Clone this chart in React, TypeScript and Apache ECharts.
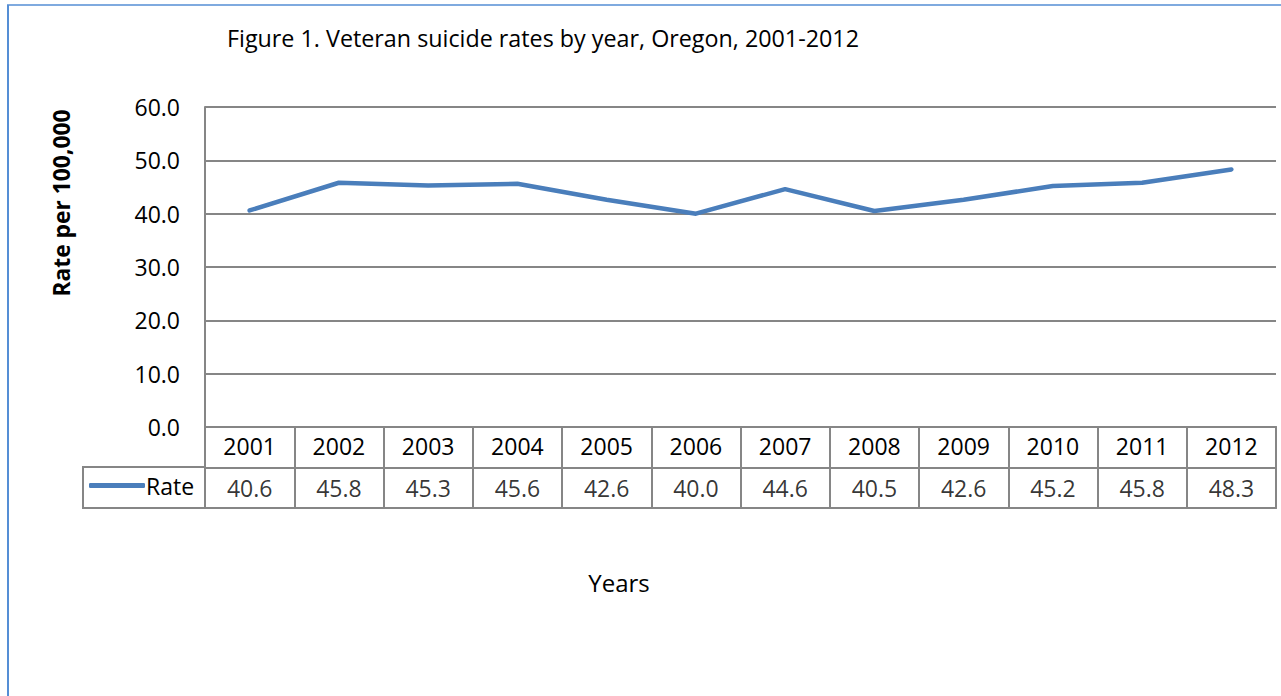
import React, { useEffect, useRef } from "react";
import * as echarts from "echarts";

const years = ["2001", "2002", "2003", "2004", "2005", "2006", "2007", "2008", "2009", "2010", "2011", "2012"];
const rates = [40.6, 45.8, 45.3, 45.6, 42.6, 40.0, 44.6, 40.5, 42.6, 45.2, 45.8, 48.3];
const seriesName = "Rate";
const titleText = "Figure 1. Veteran suicide rates by year, Oregon, 2001-2012";
const yAxisTitle = "Rate per 100,000";
const xAxisTitle = "Years";

const FONT = "'Open Sans', sans-serif";
const GRID_GRAY = "#868686";
const LINE_BLUE = "#4A7EBB";
const FS = 23;

export default function App() {
  const ref = useRef<HTMLDivElement>(null);

  useEffect(() => {
    if (!ref.current) return;
    const chart = echarts.init(ref.current, undefined, { renderer: "svg" });
    chart.setOption({
      animation: false,
      backgroundColor: "#ffffff",
      textStyle: { fontFamily: FONT, color: "#000" },
      grid: [
        { left: 205, top: 107, width: 1071, height: 320 },
        { left: 205, top: 427, width: 1071, height: 81 },
      ],
      xAxis: [
        {
          type: "category",
          gridIndex: 0,
          data: years,
          boundaryGap: true,
          axisLine: { show: true, lineStyle: { color: GRID_GRAY, width: 2 } },
          axisTick: { show: false },
          axisLabel: { fontSize: FS, color: "#000", margin: 7, fontFamily: FONT },
          splitLine: { show: false },
        },
        {
          type: "category",
          gridIndex: 1,
          data: years,
          boundaryGap: true,
          axisLine: { show: true, lineStyle: { color: GRID_GRAY, width: 2 } },
          axisTick: { show: false },
          axisLabel: { show: false },
          splitLine: { show: true, lineStyle: { color: GRID_GRAY, width: 2 } },
        },
      ],
      yAxis: [
        {
          type: "value",
          gridIndex: 0,
          min: 0,
          max: 60,
          interval: 10,
          axisLine: { show: true, lineStyle: { color: GRID_GRAY, width: 2 } },
          axisTick: { show: false },
          axisLabel: {
            fontSize: FS,
            color: "#000",
            margin: 25,
            fontFamily: FONT,
            formatter: (v: number) => v.toFixed(1),
          },
          splitLine: { show: true, lineStyle: { color: GRID_GRAY, width: 2 } },
        },
        {
          type: "category",
          gridIndex: 1,
          data: [seriesName, "Year"],
          axisLine: { show: true, lineStyle: { color: GRID_GRAY, width: 2 } },
          axisTick: { show: false },
          axisLabel: { show: false },
          splitLine: { show: true, lineStyle: { color: GRID_GRAY, width: 2 } },
        },
        {
          type: "category",
          gridIndex: 1,
          position: "right",
          data: [seriesName, "Year"],
          axisLine: { show: true, lineStyle: { color: GRID_GRAY, width: 2 } },
          axisTick: { show: false },
          axisLabel: { show: false },
          splitLine: { show: false },
        },
      ],
      legend: {
        data: [seriesName],
        left: 89,
        top: 474,
        icon: "roundRect",
        itemWidth: 56,
        itemHeight: 5,
        itemGap: 0,
        padding: 0,
        textStyle: { fontSize: FS, color: "#000", fontFamily: FONT, padding: [0, 0, 0, -4] },
      },
      series: [
        {
          name: seriesName,
          type: "line",
          xAxisIndex: 0,
          yAxisIndex: 0,
          data: rates,
          showSymbol: false,
          symbol: "none",
          lineStyle: { color: LINE_BLUE, width: 4.5, cap: "round", join: "round" },
          itemStyle: { color: LINE_BLUE },
        },
        {
          name: "table",
          type: "scatter",
          xAxisIndex: 1,
          yAxisIndex: 1,
          symbolSize: 1,
          itemStyle: { color: "rgba(0,0,0,0)" },
          silent: true,
          data: rates.map((v, i) => [years[i], seriesName, v]),
          label: {
            show: true,
            position: "inside",
            fontSize: FS,
            color: "#000",
            fontFamily: FONT,
            formatter: (p: any) => Number(p.value[2]).toFixed(1),
          },
        },
      ],
      graphic: [
        {
          type: "line",
          shape: { x1: 7, y1: 5, x2: 1281, y2: 5 },
          style: { stroke: "#558ED5", lineWidth: 1.5 },
        },
        {
          type: "line",
          shape: { x1: 8, y1: 5, x2: 8, y2: 696 },
          style: { stroke: "#558ED5", lineWidth: 2 },
        },
        {
          type: "rect",
          shape: { x: 83, y: 467, width: 122, height: 41 },
          style: { fill: "none", stroke: GRID_GRAY, lineWidth: 2 },
        },
        {
          type: "text",
          x: 227,
          y: 38,
          style: {
            text: titleText,
            fontSize: 23.3,
            fontFamily: FONT,
            fill: "#000",
            textAlign: "left",
            textVerticalAlign: "middle",
          },
        },
        {
          type: "text",
          x: 61,
          y: 203,
          rotation: Math.PI / 2,
          style: {
            text: yAxisTitle,
            fontSize: 22.8,
            fontWeight: "bold",
            fontFamily: FONT,
            fill: "#000",
            textAlign: "center",
            textVerticalAlign: "middle",
          },
        },
        {
          type: "text",
          x: 619,
          y: 582,
          style: {
            text: xAxisTitle,
            fontSize: 24,
            fontFamily: FONT,
            fill: "#000",
            textAlign: "center",
            textVerticalAlign: "middle",
          },
        },
      ],
    });
    return () => chart.dispose();
  }, []);

  return (
    <div
      ref={ref}
      style={{ position: "absolute", left: 0, top: 0, width: 1281, height: 696 }}
    />
  );
}
